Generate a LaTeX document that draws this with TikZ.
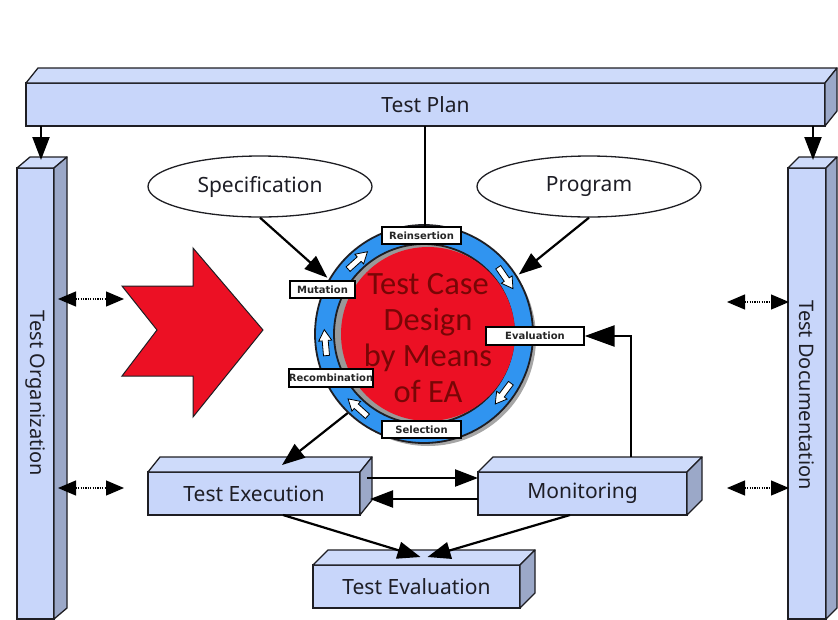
\documentclass[tikz,border=0pt]{standalone}
\usepackage{fontspec}
\setmainfont{Noto Sans}
\newfontfamily\carlito{Carlito}
\newfontfamily\labelfont{DejaVu Sans}
\usetikzlibrary{arrows.meta,shapes.geometric,calc}

\definecolor{boxfront}{RGB}{200,214,250}
\definecolor{boxtop}{RGB}{206,219,250}
\definecolor{boxside}{RGB}{155,168,200}
\definecolor{ringblue}{RGB}{48,148,240}
\definecolor{discred}{RGB}{236,16,36}
\definecolor{titlered}{RGB}{120,6,6}
\definecolor{edge}{RGB}{30,30,35}
\definecolor{ink}{RGB}{30,30,38}

\tikzset{
  x=1pt, y=-1pt,
  face/.style={draw=edge, line width=1.3pt, fill=boxfront, inner sep=0pt,
    outer sep=0pt, font=\fontsize{21}{25}\selectfont, text=ink},
  oval/.style={ellipse, draw=edge, line width=1.3pt, fill=white, inner sep=0pt,
    minimum width=224pt, minimum height=61pt, font=\fontsize{21}{25}\selectfont, text=ink},
  phase/.style={draw=black, line width=1.4pt, fill=white, inner sep=0pt,
    minimum height=17pt, font=\labelfont\bfseries\fontsize{10}{11}\selectfont, text=black!85},
  conn/.style={line width=2.2pt, draw=black, -{Triangle[length=23pt,width=17pt]}},
  bigconn/.style={line width=2.6pt, draw=black, -{Triangle[length=30pt,width=21pt]}},
  link/.style={line width=1.2pt, draw=black, dash pattern=on 1.2pt off 1.2pt,
    {Triangle[length=18pt,width=15pt]}-{Triangle[length=18pt,width=15pt]}},
  ringarrow/.style={draw=black, line width=0.8pt, fill=white, line join=miter},
}

% top and right faces of a box whose front face is node #1, depth (#2,#3)
\newcommand\prismfaces[3]{%
  \filldraw[draw=edge, line width=1.3pt, fill=boxtop, line join=round]
    (#1.north west) -- ++(#2,-#3) -- ($(#1.north east)+(#2,-#3)$) -- (#1.north east) -- cycle;
  \filldraw[draw=edge, line width=1.3pt, fill=boxside, line join=round]
    (#1.north east) -- ++(#2,-#3) -- ($(#1.south east)+(#2,-#3)$) -- (#1.south east) -- cycle;}

\begin{document}
\begin{tikzpicture}
\useasboundingbox (0,0) rectangle (838,619);

% ---- frame boxes -------------------------------------------------------
\node[face, minimum width=799pt, minimum height=43pt] (plan) at (425.5,104.5) {Test Plan};
\prismfaces{plan}{12}{15}

\node[face, minimum width=37pt, minimum height=451pt] (org) at (35.5,393.5) {};
\prismfaces{org}{13}{11}
\node[rotate=-90, font=\fontsize{20}{24}\selectfont, text=ink] (orgtext) at (35.5,393.5) {Test Organization};

\node[face, minimum width=38pt, minimum height=451pt] (doc) at (807,393.5) {};
\prismfaces{doc}{11}{11}
\node[rotate=-90, font=\fontsize{20}{24}\selectfont, text=ink] (doctext) at (807,395) {Test Documentation};

\coordinate (orgtop) at (41,160);
\coordinate (doctop) at (813,160);
\draw[conn] (plan.south -| orgtop) -- (orgtop);
\draw[conn] (plan.south -| doctop) -- (doctop);

% ---- inputs ------------------------------------------------------------
\node[oval] (spec) at (260,186.5) {Specification};
\node[oval] (prog) at (589,186.5) {Program};

% ---- big red arrow ------------------------------------------------------
\filldraw[fill=discred, draw=edge, line width=1pt, line join=miter]
  (122,286) -- (193,286) -- (193,248) -- (263,330) -- (193,417) -- (193,376)
  -- (122,376) -- (157,330) -- cycle;

% ---- evolutionary cycle --------------------------------------------------
\fill[black!35] (428,338) circle (108pt);
\node[circle, draw=edge, line width=1.8pt, fill=ringblue, minimum size=218pt,
  inner sep=0pt] (ring) at (424,334) {};
\filldraw[draw=edge, line width=1.8pt, fill=black!40] (ring.center) circle (90pt);
\fill[discred] (428,334) circle (87pt);

\begin{scope}[shift={(424,334)}, yscale=-1]
  \foreach \a in {132,37,175,-34.5,-132}{
    \filldraw[ringarrow, rotate=\a]
      (96,13) -- (96,-2) -- (92.5,-2) -- (99,-13) -- (105.5,-2) -- (102,-2) -- (102,13) -- cycle;
  }
\end{scope}

\node[font=\carlito\fontsize{32.5}{36}\selectfont, text=titlered, align=center]
  (title) at (428,338) {Test Case\\Design\\by Means\\of EA};

\node[phase, minimum width=79pt] (rein) at (421.5,235.5) {Reinsertion};
\node[phase, minimum width=65pt] (mut)  at (322.5,289.5) {Mutation};
\node[phase, minimum width=98pt, minimum height=18pt] (evl) at (535,336) {Evaluation};
\node[phase, minimum width=84pt, minimum height=18pt] (rec) at (331,378) {Recombination};
\node[phase, minimum width=79pt] (sel)  at (421.5,429.5) {Selection};

% ---- process boxes -------------------------------------------------------
\node[face, minimum width=212pt, minimum height=43pt] (exec) at (254,493.5) {Test Execution};
\prismfaces{exec}{12}{15}
\node[face, minimum width=209pt, minimum height=43pt] (mon) at (582.5,493.5) {Monitoring};
\prismfaces{mon}{15}{15}
\node[face, minimum width=207pt, minimum height=43pt] (eval) at (416.5,586.5) {Test Evaluation};
\prismfaces{eval}{15}{15}

% ---- connectors ------------------------------------------------------------
\coordinate (plandrop) at (425,126);
\draw[line width=2pt] (plandrop) -- (plandrop |- rein.north);

\draw[conn, shorten >=2pt] (spec.south) -- (ring.150);
\draw[conn, shorten >=2pt] (prog.south) -- (ring.32);
\coordinate (exectop) at (282,465);
\draw[conn] (ring.226) -- (exectop);

\draw[conn] ([xshift=7pt,yshift=15.5pt]exec.east) -- ([yshift=15.5pt]mon.west);
\draw[conn] ([yshift=-5.5pt]mon.west) -- ([xshift=10pt,yshift=-5.5pt]exec.east);
\draw[conn] ([xshift=29pt]exec.south) -- ([xshift=4pt,yshift=8pt]eval.north);
\draw[conn] ([xshift=-12.5pt]mon.south) -- ([xshift=11pt,yshift=8pt]eval.north);
\draw[bigconn] ([xshift=48.5pt,yshift=15pt]mon.north) |- (evl.east);

% ---- dotted links to the side columns --------------------------------------
\coordinate (l1a) at (58,299);  \coordinate (l1b) at (124,299);
\coordinate (l2a) at (58,488);  \coordinate (l2b) at (124,488);
\coordinate (r1a) at (727,302); \coordinate (r1b) at (789,302);
\coordinate (r2a) at (727,488); \coordinate (r2b) at (789,488);
\draw[link] (l1a) -- (l1b);
\draw[link] (l2a) -- (l2b);
\draw[link] (r1a) -- (r1b);
\draw[link] (r2a) -- (r2b);
\end{tikzpicture}
\end{document}
